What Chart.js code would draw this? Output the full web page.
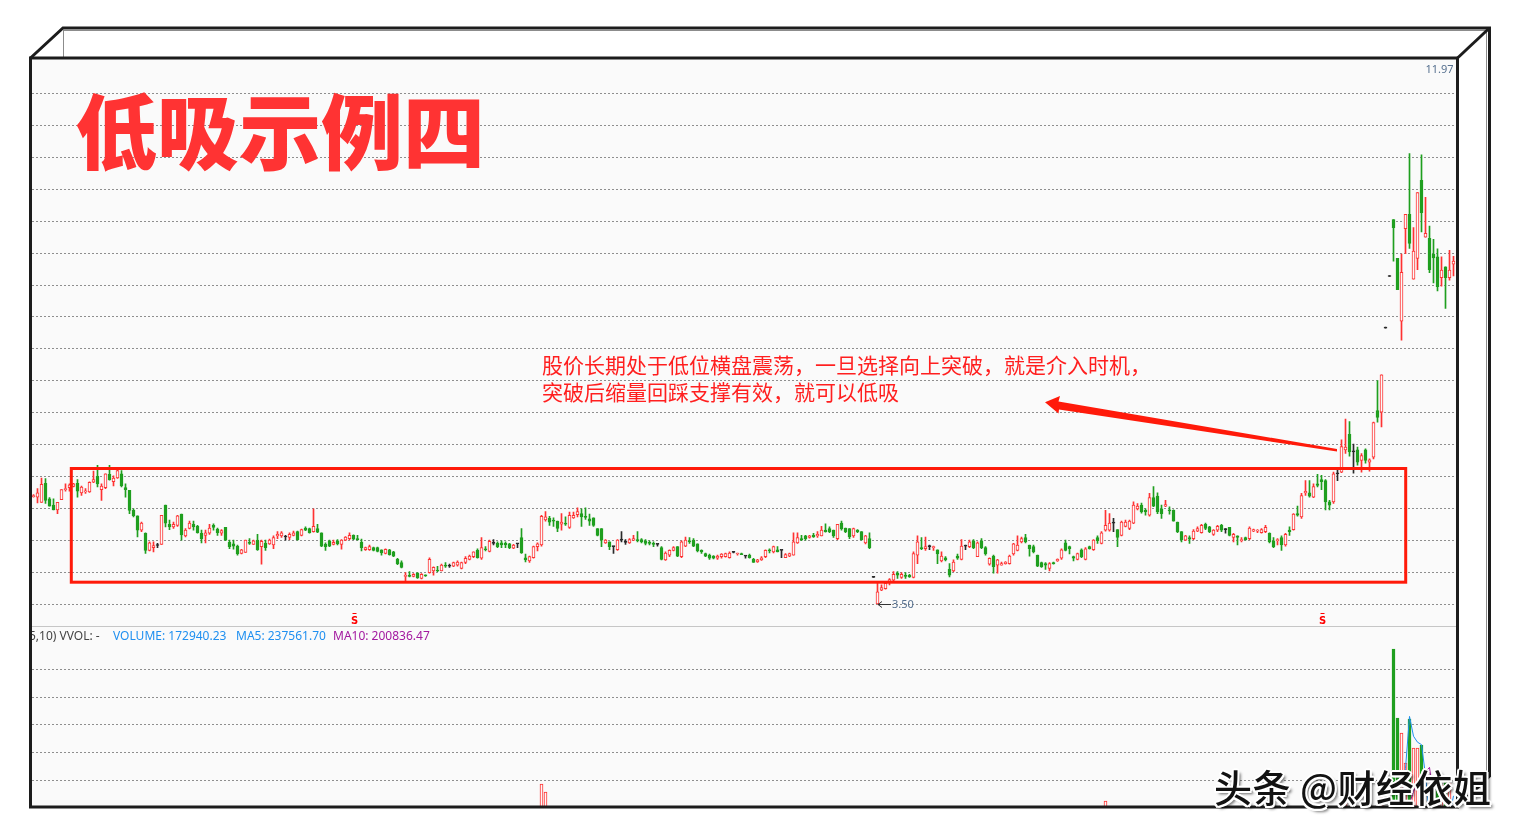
<!DOCTYPE html>
<html lang="zh-CN">
<head>
<meta charset="utf-8">
<title>低吸示例四</title>
<script src="https://cdn.jsdelivr.net/npm/chart.js@4.4.1/dist/chart.umd.min.js"></script>
<style>
  html, body { margin:0; padding:0; background:#fff; }
  #stage { position:relative; width:1520px; height:833px; overflow:hidden; background:#fff; }
  #face { position:absolute; left:31px; top:58px; width:1426px; height:749px; background:#fafafa; }
  .panel { position:absolute; left:31px; width:1426px; }
  #pricePanel { top:58px; height:569px; }
  #volPanel { top:627px; height:179px; }
  canvas { display:block; }
  #sep { position:absolute; left:31px; top:626px; width:1426px; height:1px; background:#c6c6c6; }
  #title { position:absolute; left:75px; top:86px; font-family:"Noto Sans CJK SC", sans-serif; font-weight:900;
           font-size:82px; line-height:83px; color:#ff3333; white-space:nowrap; }
  #note { position:absolute; left:542px; top:351px; font-family:"Noto Sans CJK SC", sans-serif; font-weight:400;
          font-size:21px; line-height:27px; color:#ff1f1f; white-space:nowrap; }
  #volHead { position:absolute; left:31px; top:628px; width:640px; height:17px; overflow:hidden;
             font-family:"Noto Sans", sans-serif; font-size:12px; line-height:16px; }
  #volHead span { position:absolute; top:0; white-space:nowrap; }
  #brand { position:absolute; left:1214px; top:767px; font-family:"Noto Sans CJK SC", sans-serif; font-weight:500;
           font-size:38px; line-height:38px; color:#121212; white-space:nowrap; letter-spacing:0.5px;
           text-shadow: -2px 0 #fff, 2px 0 #fff, 0 -2px #fff, 0 2px #fff,
                        -1.5px -1.5px #fff, 1.5px 1.5px #fff, -1.5px 1.5px #fff, 1.5px -1.5px #fff,
                        3px 3px 3px rgba(0,0,0,0.6); }
  svg { position:absolute; left:0; top:0; }
</style>
</head>
<body>
<div id="stage">
  <div id="face"></div>
  <div class="panel" id="pricePanel"><canvas id="priceCanvas" width="1426" height="569"></canvas></div>
  <div class="panel" id="volPanel"><canvas id="volCanvas" width="1426" height="179"></canvas></div>
  <div id="sep"></div>
  <div id="volHead">
    <span style="left:-2px;color:#444">5,10) VVOL: -</span>
    <span id="hVol" style="left:82px;color:#1e8ff0"></span>
    <span id="hMa5" style="left:205px;color:#1e8ff0"></span>
    <span id="hMa10" style="left:302px;color:#a2189f"></span>
  </div>
  <div id="title">低吸示例四</div>
  <div id="note">股价长期处于低位横盘震荡，一旦选择向上突破，就是介入时机，<br>突破后缩量回踩支撑有效，就可以低吸</div>

  <svg width="1520" height="833" viewBox="0 0 1520 833">
    <!-- consolidation box -->
    <rect x="71.3" y="468.5" width="1334.4" height="113.7" fill="none" stroke="#ff1a0a" stroke-width="3"/>
    <!-- pointer from breakout back to the note -->
    <polygon points="1045,402.3 1060,396 1058.5,401.5 1337,449 1337,451.5 1059,409.5 1058.5,413.5" fill="#ff1a0a"/>
    <!-- 3D frame -->
    <g stroke="#8c8c8c" stroke-width="1" fill="none">
      <path d="M63.5 30 L63.5 57"/>
      <path d="M64 30.5 L1487 30.5"/>
      <path d="M1486.5 31 L1486.5 778"/>
    </g>
    <g stroke="#1c1c1c" stroke-width="3" fill="none" stroke-linejoin="miter">
      <path d="M30.5 58 L1457.5 58 L1457.5 807 L30.5 807 Z"/>
      <path d="M30.5 58 L63 28 L1489.5 28 L1489.5 776 L1457.5 807"/>
      <path d="M1457.5 58 L1489.5 28"/>
    </g>
  </svg>
  <div id="brand">头条 @财经依姐</div>
</div>

<script>
// ---- daily OHLC (yuan) ----
const opens = [
  5.52,5.51,5.41,5.77,5.48,5.36,5.27,5.46,5.65,5.69, 5.71,5.77,5.59,5.61,5.61,5.79,5.90,5.65,5.69,5.94,
  5.80,5.87,5.95,5.69,5.64,5.26,5.16,4.89,4.83,4.51, 4.56,4.60,4.62,5.36,5.00,4.95,4.98,5.19,4.78,4.92,
  5.00,4.96,4.83,4.79,4.83,4.98,4.91,4.83,4.94,4.66, 4.63,4.59,4.45,4.47,4.66,4.62,4.70,4.58,4.64,4.63,
  4.61,4.78,4.78,4.76,4.75,4.79,4.86,4.79,4.93,4.92, 4.86,4.92,4.84,4.62,4.69,4.62,4.69,4.62,4.70,4.73,
  4.79,4.73,4.66,4.52,4.52,4.56,4.56,4.52,4.45,4.52, 4.48,4.34,4.28,4.02,4.04,4.02,4.08,3.98,4.04,4.09,
  4.12,4.14,4.12,4.23,4.21,4.21,4.23,4.17,4.28,4.34, 4.39,4.51,4.36,4.54,4.49,4.64,4.64,4.65,4.64,4.63,
  4.55,4.63,4.75,4.37,4.31,4.37,4.58,4.61,5.08,5.11, 5.08,5.06,5.00,5.02,4.94,5.12,5.18,5.20,5.15,5.10,
  5.12,4.92,4.92,4.65,4.67,4.58,4.52,4.70,4.66,4.65, 4.70,4.71,4.71,4.69,4.66,4.64,4.62,4.56,4.33,4.42,
  4.51,4.58,4.39,4.59,4.69,4.70,4.63,4.51,4.45,4.42, 4.40,4.36,4.39,4.39,4.37,4.47,4.44,4.45,4.40,4.42,
  4.34,4.29,4.33,4.39,4.52,4.48,4.52,4.51,4.37,4.40, 4.42,4.65,4.73,4.78,4.75,4.79,4.78,4.78,4.89,4.92,
  4.89,4.73,5.02,4.93,4.92,4.78,4.89,4.86,4.65,4.73, 4.00,3.50,3.76,3.79,3.92,3.95,4.08,4.00,4.04,4.04,
  4.00,4.42,4.56,4.54,4.58,4.56,4.52,4.31,4.37,4.15, 4.12,4.40,4.34,4.59,4.58,4.69,4.39,4.69,4.56,4.25,
  4.40,4.23,4.23,4.26,4.26,4.44,4.51,4.67,4.75,4.61, 4.58,4.42,4.28,4.26,4.17,4.28,4.31,4.36,4.65,4.58,
  4.39,4.34,4.52,4.34,4.58,4.52,4.75,4.64,4.89,4.89, 5.02,4.90,4.79,4.96,4.92,5.02,5.29,5.36,5.26,5.17,
  5.50,5.53,5.29,5.34,5.27,5.26,5.04,4.86,4.70,4.75, 4.73,4.87,4.84,5.00,4.95,4.81,4.89,4.98,4.90,4.94,
  4.75,4.78,4.69,4.75,4.73,4.87,4.87,4.84,4.86,4.83, 4.69,4.69,4.75,4.61,4.89,4.90,5.20,5.14,5.59,5.59,
  5.51,5.76,5.84,5.82,5.42,5.42,5.95,5.98,6.40,6.69, 6.36,6.40,6.20,6.40,6.17,6.26,7.14,7.11,8.69,9.66,
  10.73,10.00,8.82,10.56,10.83,9.61,10.00,11.47,10.40,10.38, 10.08,10.03,9.64,9.84,9.64,9.89
];
const highs = [
  5.56,5.67,5.87,5.86,5.50,5.48,5.41,5.65,5.76,5.76, 5.77,5.84,5.72,5.67,5.80,6.00,6.11,5.76,5.95,6.11,
  5.91,6.04,6.01,5.76,5.64,5.29,5.16,5.04,4.84,4.67, 4.67,4.64,5.17,5.36,5.08,5.04,5.17,5.19,4.92,5.06,
  5.06,4.98,4.89,4.89,5.00,5.01,4.93,4.90,4.94,4.70, 4.70,4.61,4.53,4.70,4.73,4.70,4.81,4.70,4.70,4.72,
  4.78,4.86,4.86,4.79,4.84,4.87,4.87,4.91,4.95,4.93, 5.29,5.00,4.84,4.65,4.70,4.70,4.71,4.71,4.77,4.84,
  4.80,4.79,4.72,4.57,4.61,4.57,4.57,4.52,4.54,4.53, 4.49,4.36,4.31,4.09,4.11,4.07,4.09,4.07,4.05,4.37,
  4.20,4.21,4.25,4.28,4.25,4.29,4.31,4.29,4.39,4.42, 4.48,4.54,4.75,4.58,4.70,4.71,4.67,4.69,4.67,4.64,
  4.62,4.64,4.92,4.44,4.40,4.59,4.65,5.17,5.24,5.15, 5.12,5.06,5.20,5.14,5.23,5.23,5.31,5.29,5.31,5.19,
  5.12,4.92,4.92,4.71,4.67,4.58,4.71,4.86,4.71,4.73, 4.79,4.86,4.73,4.71,4.69,4.67,4.62,4.58,4.48,4.52,
  4.58,4.58,4.69,4.76,4.75,4.73,4.63,4.52,4.46,4.44, 4.41,4.42,4.45,4.46,4.48,4.49,4.46,4.46,4.40,4.44,
  4.36,4.34,4.39,4.52,4.54,4.59,4.58,4.51,4.45,4.46, 4.84,4.84,4.79,4.79,4.79,4.83,4.86,4.96,5.01,4.95,
  4.89,5.00,5.06,4.93,4.92,4.93,4.90,4.86,4.79,4.84, 4.00,3.89,3.86,3.90,3.98,4.11,4.11,4.09,4.09,4.06,
  4.48,4.78,4.75,4.76,4.61,4.59,4.52,4.48,4.39,4.26, 4.33,4.44,4.71,4.61,4.70,4.71,4.67,4.73,4.58,4.37,
  4.42,4.34,4.29,4.30,4.42,4.64,4.78,4.76,4.81,4.61, 4.61,4.42,4.29,4.28,4.28,4.29,4.35,4.54,4.70,4.59,
  4.40,4.46,4.54,4.56,4.59,4.71,4.78,4.86,5.26,5.20, 5.11,4.90,5.06,5.08,5.08,5.42,5.39,5.40,5.29,5.58,
  5.71,5.59,5.36,5.45,5.33,5.27,5.04,4.86,4.79,4.78, 4.90,4.95,5.00,5.02,4.96,4.90,4.98,5.00,4.92,4.94,
  4.83,4.78,4.75,4.76,4.95,4.91,4.90,4.92,4.98,4.84, 4.75,4.73,4.78,4.83,4.95,5.20,5.34,5.58,5.82,5.82,
  5.76,5.94,5.92,5.84,5.45,5.98,6.05,6.59,6.98,6.93, 6.51,6.45,6.33,6.42,6.23,6.92,7.70,7.81,8.69,9.66,
  10.73,10.00,10.08,10.83,11.97,10.58,11.24,11.95,11.15,10.61, 10.36,10.18,10.03,9.84,10.15,10.04
];
const lows = [
  5.51,5.40,5.41,5.39,5.34,5.27,5.20,5.46,5.62,5.62, 5.70,5.51,5.54,5.58,5.60,5.78,5.70,5.45,5.67,5.83,
  5.72,5.86,5.70,5.51,5.20,5.14,4.76,4.86,4.45,4.50, 4.48,4.56,4.62,4.95,4.90,4.92,4.96,4.70,4.76,4.91,
  4.89,4.83,4.65,4.65,4.81,4.89,4.79,4.79,4.69,4.54, 4.53,4.42,4.44,4.47,4.62,4.62,4.51,4.25,4.51,4.62,
  4.54,4.73,4.75,4.70,4.71,4.78,4.70,4.78,4.88,4.83, 4.85,4.84,4.58,4.51,4.58,4.61,4.61,4.53,4.69,4.71,
  4.71,4.70,4.50,4.51,4.51,4.50,4.48,4.42,4.44,4.42, 4.39,4.24,4.18,3.94,4.01,4.01,3.98,3.97,4.02,4.08,
  4.04,4.11,4.12,4.19,4.19,4.20,4.21,4.16,4.26,4.33, 4.37,4.36,4.34,4.50,4.48,4.61,4.56,4.56,4.56,4.54,
  4.54,4.56,4.45,4.29,4.28,4.36,4.50,4.59,5.06,4.98, 4.96,4.86,4.89,4.98,4.92,5.11,5.14,4.96,5.09,4.98,
  4.96,4.78,4.58,4.64,4.52,4.45,4.51,4.67,4.62,4.64, 4.69,4.67,4.65,4.61,4.61,4.58,4.59,4.33,4.32,4.39,
  4.50,4.39,4.37,4.58,4.64,4.58,4.48,4.45,4.39,4.34, 4.35,4.34,4.36,4.38,4.36,4.46,4.42,4.43,4.36,4.36,
  4.28,4.28,4.32,4.37,4.46,4.46,4.48,4.37,4.37,4.39, 4.42,4.64,4.69,4.70,4.74,4.75,4.75,4.78,4.85,4.84,
  4.75,4.71,4.89,4.84,4.73,4.75,4.84,4.70,4.63,4.54, 4.00,3.50,3.75,3.78,3.86,3.94,3.98,3.98,3.98,4.00,
  3.99,4.26,4.52,4.51,4.52,4.51,4.26,4.29,4.31,4.01, 4.11,4.34,4.33,4.52,4.56,4.54,4.39,4.54,4.42,4.23,
  4.08,4.08,4.23,4.25,4.25,4.42,4.50,4.65,4.65,4.40, 4.46,4.20,4.19,4.15,4.12,4.25,4.30,4.34,4.50,4.44,
  4.31,4.33,4.37,4.33,4.53,4.51,4.64,4.63,4.87,4.87, 4.86,4.58,4.78,4.95,4.90,5.01,5.27,5.21,5.17,5.15,
  5.33,5.20,5.11,5.33,5.19,5.06,4.84,4.67,4.69,4.64, 4.71,4.86,4.83,4.90,4.84,4.79,4.86,4.86,4.83,4.78,
  4.67,4.61,4.67,4.70,4.71,4.86,4.84,4.83,4.84,4.65, 4.56,4.61,4.51,4.59,4.79,4.89,5.15,5.11,5.54,5.51,
  5.50,5.70,5.65,5.27,5.27,5.39,5.82,5.97,6.33,6.28, 5.96,6.11,5.98,6.15,6.00,6.23,6.92,6.83,8.69,9.66,
  9.95,9.41,8.46,10.09,10.19,9.61,9.79,10.50,10.40,9.73, 9.54,9.39,9.48,9.06,9.59,9.67
];
const closes = [
  5.54,5.59,5.75,5.45,5.34,5.27,5.41,5.65,5.67,5.74, 5.76,5.62,5.70,5.62,5.79,5.84,5.76,5.72,5.95,5.84,
  5.87,6.01,5.72,5.65,5.26,5.16,4.89,5.02,4.51,4.65, 4.60,4.60,5.17,5.02,4.95,5.00,5.16,4.80,4.89,5.02,
  4.95,4.84,4.73,4.84,4.93,4.94,4.84,4.88,4.70,4.58, 4.59,4.44,4.52,4.70,4.64,4.69,4.52,4.68,4.56,4.70,
  4.75,4.81,4.84,4.76,4.81,4.84,4.71,4.90,4.89,4.84, 4.96,4.85,4.59,4.58,4.59,4.66,4.63,4.70,4.76,4.79,
  4.72,4.71,4.56,4.56,4.58,4.51,4.49,4.46,4.53,4.43, 4.40,4.26,4.19,4.04,4.02,4.06,3.99,4.06,4.03,4.34,
  4.19,4.12,4.23,4.21,4.21,4.28,4.29,4.28,4.36,4.40, 4.48,4.37,4.56,4.52,4.68,4.64,4.58,4.61,4.61,4.56,
  4.61,4.63,4.46,4.33,4.39,4.58,4.63,5.15,5.14,5.04, 5.06,4.92,5.04,5.00,5.17,5.17,5.24,5.14,5.13,5.06,
  4.98,4.79,4.70,4.70,4.58,4.58,4.70,4.70,4.66,4.71, 4.73,4.69,4.67,4.64,4.64,4.62,4.62,4.34,4.46,4.51,
  4.56,4.40,4.67,4.70,4.67,4.59,4.50,4.48,4.40,4.36, 4.36,4.40,4.44,4.45,4.46,4.47,4.45,4.43,4.40,4.37,
  4.28,4.33,4.37,4.51,4.50,4.58,4.48,4.51,4.43,4.45, 4.67,4.75,4.71,4.73,4.78,4.76,4.81,4.89,4.86,4.86,
  4.78,5.00,4.91,4.86,4.76,4.92,4.86,4.71,4.78,4.56, 4.00,3.73,3.81,3.89,3.96,4.06,4.04,4.06,4.02,4.01,
  4.45,4.67,4.54,4.58,4.58,4.58,4.44,4.40,4.33,4.04, 4.29,4.36,4.59,4.59,4.67,4.56,4.65,4.56,4.44,4.36,
  4.20,4.33,4.26,4.29,4.40,4.63,4.61,4.73,4.67,4.54, 4.48,4.21,4.20,4.23,4.26,4.26,4.34,4.52,4.51,4.54,
  4.36,4.45,4.39,4.54,4.54,4.70,4.69,4.84,4.98,5.02, 5.02,4.75,5.04,5.04,5.06,5.36,5.34,5.23,5.23,5.50,
  5.34,5.23,5.20,5.37,5.25,5.06,4.86,4.71,4.78,4.72, 4.87,4.92,4.98,4.92,4.86,4.89,4.96,4.89,4.90,4.79,
  4.81,4.75,4.71,4.71,4.93,4.90,4.89,4.90,4.94,4.67, 4.58,4.71,4.61,4.81,4.86,5.19,5.17,5.54,5.62,5.53,
  5.71,5.73,5.80,5.42,5.36,5.95,5.95,6.46,6.45,6.36, 6.36,6.17,6.29,6.20,6.21,6.91,7.01,7.81,8.69,9.66,
  10.58,9.41,9.74,10.83,10.28,10.14,11.24,10.86,10.47,9.79, 10.01,9.47,9.78,9.64,9.78,9.95
];
// ---- daily volume ----
const volumes = [
  120000,135000,198000,176000,118000,102000,110000,150000,96000,104000, 88000,142000,98000,76000,124000,140000,188000,132000,165000,158000,
  112000,160000,172000,120000,190000,126000,178000,104000,186000,120000, 98000,84000,205000,168000,96000,90000,132000,176000,110000,118000,
  92000,98000,112000,94000,104000,80000,86000,78000,124000,96000, 84000,110000,72000,118000,70000,76000,112000,124000,88000,82000,
  98000,86000,80000,64000,78000,72000,96000,90000,66000,72000, 132000,84000,118000,80000,76000,70000,68000,82000,74000,80000,
  70000,62000,96000,64000,66000,60000,62000,70000,64000,72000, 68000,104000,98000,126000,72000,66000,80000,74000,58000,168000,
  96000,78000,92000,70000,58000,74000,80000,86000,94000,90000, 102000,112000,158000,84000,130000,88000,90000,82000,76000,84000,
  78000,70000,176000,120000,96000,128000,104000,251400,242000,172000, 138000,150000,160000,126000,196000,140000,150000,166000,148000,124000,
  132000,128000,168000,92000,104000,96000,130000,112000,84000,80000, 76000,100000,78000,74000,70000,72000,60000,150000,118000,102000,
  86000,126000,148000,116000,90000,100000,84000,78000,80000,70000, 66000,72000,70000,78000,58000,60000,56000,62000,68000,82000,
  74000,70000,78000,104000,84000,98000,86000,90000,74000,76000, 176000,150000,98000,92000,80000,84000,88000,112000,118000,94000,
  110000,160000,124000,96000,120000,118000,86000,114000,108000,148000, 36000,190000,130000,124000,110000,132000,96000,90000,82000,78000,
  210000,196000,132000,118000,96000,88000,122000,110000,92000,140000, 128000,104000,166000,112000,118000,120000,150000,124000,126000,116000,
  140000,118000,84000,80000,112000,150000,136000,102000,108000,116000, 110000,148000,100000,92000,106000,78000,84000,140000,132000,98000,
  96000,104000,112000,126000,76000,144000,106000,176000,231600,198000, 160000,170000,180000,130000,136000,214000,150000,144000,118000,206000,
  168000,190000,140000,120000,118000,158000,162000,136000,106000,98000, 124000,112000,130000,116000,108000,104000,100000,108000,82000,120000,
  98000,90000,80000,78000,148000,82000,78000,90000,96000,128000, 120000,86000,132000,154000,100000,176000,128000,204000,150000,142000,
  160000,132000,122000,196000,128000,210000,168000,220000,240900,200000, 172000,164000,150000,146000,138000,150000,180000,249000,30000,25000,
  408400,328100,310700,275800,327000,293200,293200,296700,98000,76000, 56656.2,255000,250000,258000,251868.27,172940.23
];
// trading-day index used as the category axis
const days = opens.map((_, i) => i + 1);
// candles carrying a sell signal mark
const sellSignals = [80, 322];

// ---- axis ranges and grid levels ----
const PRICE_AXIS_MIN = 3.0674, PRICE_AXIS_MAX = 13.7696;
const PRICE_GRID = [3.5, 4.1, 4.7, 5.3, 5.9, 6.5, 7.1, 7.7, 8.3, 8.9, 9.5, 10.1, 10.7, 11.3, 11.9, 12.5, 13.1];
const VOL_AXIS_MIN = 225750, VOL_AXIS_MAX = 434030;
const VOL_GRID = [256000, 288000, 320000, 352000, 384000];

const RED = '#ff3232', GREEN = '#1f9f1f', FLAT = '#2a2a2a', FACE = '#fafafa';
const tone = i => closes[i] > opens[i] ? RED : (closes[i] < opens[i] ? GREEN : FLAT);
const fill = i => closes[i] > opens[i] ? FACE : tone(i);

function movingAverage(values, n) {
  return values.map((_, i) => {
    if (i < n - 1) return null;
    let s = 0;
    for (let k = i - n + 1; k <= i; k++) s += values[k];
    return s / n;
  });
}
const ma5 = movingAverage(volumes, 5);
const ma10 = movingAverage(volumes, 10);
const last = volumes.length - 1;
document.getElementById('hVol').textContent = 'VOLUME: ' + volumes[last].toFixed(2);
document.getElementById('hMa5').textContent = 'MA5: ' + ma5[last].toFixed(2);
document.getElementById('hMa10').textContent = 'MA10: ' + ma10[last].toFixed(2);

const gridAxis = (min, max, levels) => ({
  min, max,
  afterBuildTicks: s => { s.ticks = levels.map(v => ({ value: v })); },
  afterFit: s => { s.width = 0; },
  ticks: { display: false },
  grid: { color: '#8e8e8e', lineWidth: 1, drawTicks: false },
  border: { display: false, dash: [2, 2] }
});
const common = {
  responsive: false, animation: false, devicePixelRatio: 1, events: [],
  layout: { padding: { left: 0.5, right: 1.5, top: 0, bottom: 0 } },
  plugins: { legend: { display: false }, tooltip: { enabled: false } }
};

// labels drawn on the price pane: range extremes and sell signals
const priceMarks = {
  id: 'priceMarks',
  afterDatasetsDraw(chart) {
    const { ctx, chartArea, scales: { x, y } } = chart;
    const hi = Math.max(...highs);
    const lo = Math.min(...lows);
    const iLo = lows.indexOf(lo);
    ctx.save();
    ctx.font = '11px "Noto Sans", sans-serif';
    ctx.textBaseline = 'middle';
    ctx.fillStyle = '#56708f';
    ctx.textAlign = 'right';
    ctx.fillText(hi.toFixed(2), chartArea.right - 2, chartArea.top + 12);
    const px = Math.round(x.getPixelForValue(iLo)), py = Math.round(y.getPixelForValue(lo)) + 0.5;
    ctx.strokeStyle = '#333'; ctx.lineWidth = 1;
    ctx.beginPath();
    ctx.moveTo(px, py); ctx.lineTo(px + 13, py);
    ctx.moveTo(px + 4, py - 3); ctx.lineTo(px, py); ctx.lineTo(px + 4, py + 3);
    ctx.stroke();
    ctx.textAlign = 'left';
    ctx.fillStyle = '#56708f';
    ctx.fillText(lo.toFixed(2), px + 14, py);
    ctx.fillStyle = '#ff0000';
    ctx.strokeStyle = '#ff0000';
    ctx.font = 'bold 10px "DejaVu Sans", sans-serif';
    ctx.textAlign = 'center';
    sellSignals.forEach(i => {
      const sx = Math.round(x.getPixelForValue(i)) + 0.5;
      const sy = chartArea.bottom - 6;
      ctx.fillText('S', sx, sy);
      ctx.beginPath(); ctx.moveTo(sx - 2, sy - 7.5); ctx.lineTo(sx + 2, sy - 7.5); ctx.stroke();
    });
    ctx.restore();
  }
};

new Chart(document.getElementById('priceCanvas'), {
  type: 'bar',
  data: {
    labels: days,
    datasets: [
      { label: 'range', data: lows.map((l, i) => [l, highs[i]]), order: 2, grouped: false,
        barThickness: 1, minBarLength: 1, borderWidth: 0, clip: 0,
        backgroundColor: c => tone(c.dataIndex) },
      { label: 'body', data: opens.map((o, i) => [o, closes[i]]), order: 1, grouped: false,
        barThickness: 3, minBarLength: 1, borderWidth: 1, borderSkipped: false, clip: 0,
        backgroundColor: c => fill(c.dataIndex), borderColor: c => tone(c.dataIndex) }
    ]
  },
  options: Object.assign({}, common, {
    scales: {
      x: { type: 'category', display: false, offset: true },
      y: gridAxis(PRICE_AXIS_MIN, PRICE_AXIS_MAX, PRICE_GRID)
    }
  }),
  plugins: [priceMarks]
});

new Chart(document.getElementById('volCanvas'), {
  type: 'bar',
  data: {
    labels: days,
    datasets: [
      { type: 'line', label: 'MA5', data: ma5, order: 1, borderColor: '#1e8ff0', borderWidth: 1,
        pointRadius: 0, tension: 0, clip: 0 },
      { type: 'line', label: 'MA10', data: ma10, order: 2, borderColor: '#a2189f', borderWidth: 1,
        pointRadius: 0, tension: 0, clip: 0 },
      { type: 'bar', label: 'VOLUME', data: volumes, order: 3, barThickness: 3, borderWidth: 1,
        borderSkipped: false, clip: 0,
        backgroundColor: c => fill(c.dataIndex), borderColor: c => tone(c.dataIndex) }
    ]
  },
  options: Object.assign({}, common, {
    scales: {
      x: { type: 'category', display: false, offset: true },
      y: gridAxis(VOL_AXIS_MIN, VOL_AXIS_MAX, VOL_GRID)
    }
  })
});
</script>
</body>
</html>
